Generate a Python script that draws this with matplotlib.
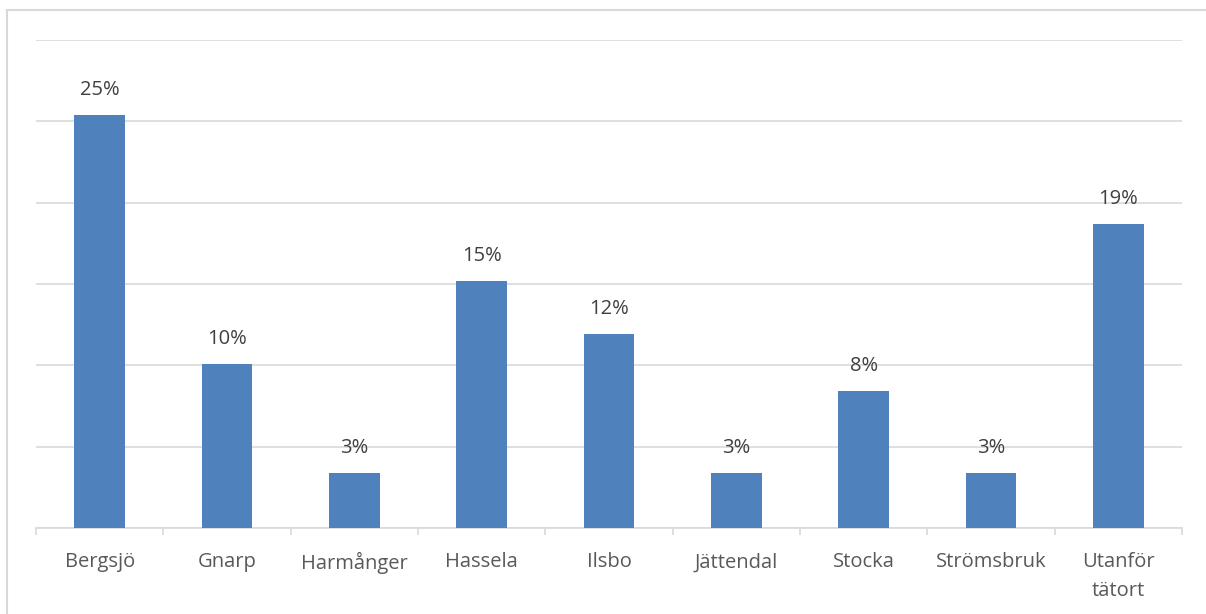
import matplotlib
matplotlib.use("Agg")
import matplotlib.pyplot as plt
from matplotlib.patches import Rectangle
import numpy as np

plt.rcParams["font.family"] = ["Open Sans", "DejaVu Sans"]

categories = ["Bergsjö", "Gnarp", "Harmånger", "Hassela", "Ilsbo",
              "Jättendal", "Stocka", "Strömsbruk", "Utanför\ntätort"]
shares = [0.254, 0.101, 0.034, 0.152, 0.119, 0.034, 0.084, 0.034, 0.187]
labels = ["25%", "10%", "3%", "15%", "12%", "3%", "8%", "3%", "19%"]

W, H = 1206, 614
fig = plt.figure(figsize=(W / 100, H / 100), dpi=100)
ax = fig.add_axes([36 / W, (H - 528) / H, (1182 - 36) / W, (528 - 40) / H])

x = np.arange(len(categories))
ax.bar(x, shares, width=0.4, color="#4f81bd", zorder=3)

for xi, v, lab in zip(x, shares, labels):
    ax.annotate(lab, (xi, v), xytext=(0, 18), textcoords="offset points",
                ha="center", va="center", fontsize=14.5, color="#404040")

ax.set_xlim(-0.5, len(categories) - 0.5)
ax.set_ylim(0, 0.30)
ax.set_yticks(np.arange(0, 0.301, 0.05))
ax.set_yticklabels([])
ax.tick_params(axis="y", length=0)
ax.grid(axis="y", color="#d9d9d9", linewidth=1.2, zorder=0)

ax.set_xticks(x)
ax.set_xticklabels(categories, fontsize=14.5, color="#595959", linespacing=1.55)
ax.set_xticks(np.arange(-0.5, len(categories), 1), minor=True)
ax.tick_params(axis="x", which="major", length=0, pad=17.5)
ax.tick_params(axis="x", which="minor", length=5, color="#d9d9d9", width=1.2)

for s in ["top", "right", "left"]:
    ax.spines[s].set_visible(False)
ax.spines["bottom"].set_color("#d9d9d9")
ax.spines["bottom"].set_linewidth(1.2)

fig.patches.append(Rectangle((7 / W, -0.05), 1.2, (H - 10) / H + 0.05,
                             transform=fig.transFigure, fill=False,
                             edgecolor="#d9d9d9", linewidth=1.5))

fig.savefig("out.png", dpi=100)
